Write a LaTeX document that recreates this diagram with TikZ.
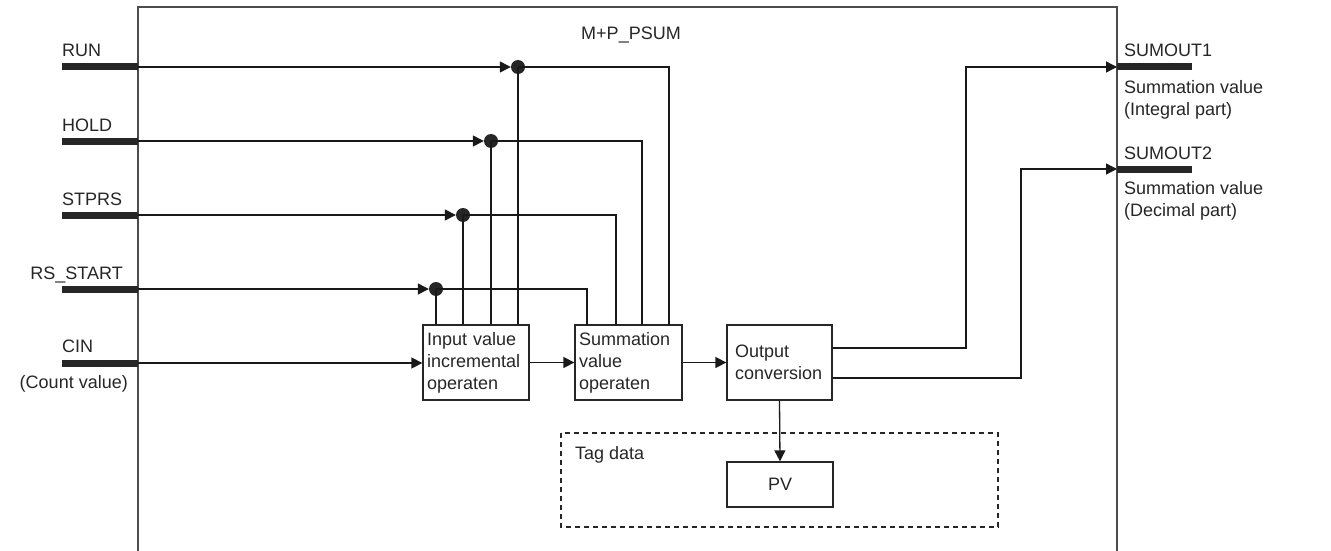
\documentclass[tikz,border=0pt]{standalone}
\usepackage{fontspec}
\setmainfont{Liberation Sans}
\usetikzlibrary{arrows.meta,calc}
\begin{document}
\begin{tikzpicture}[x=1pt,y=-1pt,
  every node/.style={font=\fontsize{18}{22}\selectfont, text=black!85, inner sep=0pt},
  blk/.style={draw=black!85, line width=1.3pt, minimum height=75pt, inner xsep=4pt, inner ysep=2pt, align=left},
  conn/.style={draw=black!90, line width=1.3pt},
  arr/.style={conn, -{Triangle[length=11pt,width=11pt]}},
  bar/.style={line width=7pt, draw=black!85},
  jdot/.style={circle, fill=black!85, minimum size=14pt, inner sep=0pt},
  frame/.style={line width=1.6pt, draw=black!70},
  tagbox/.style={draw=black!85, line width=1.2pt, dash pattern=on 5pt off 4pt}]
\useasboundingbox (0,0) rectangle (1331,551);

% main frame
\draw[frame] (138,551) -- (138,7) -- (1117,7) -- (1117,551);
\node[anchor=base] (title) at (631,40) {M+P\_PSUM};

% input bar ends
\coordinate (runs) at (62,67);   \coordinate (runin) at (138,67);
\coordinate (holds) at (62,141); \coordinate (holdin) at (138,141);
\coordinate (stps) at (62,215);  \coordinate (stpin) at (138,215);
\coordinate (rss) at (62,289);   \coordinate (rsin) at (138,289);
\coordinate (cins) at (62,363);  \coordinate (cinin) at (138,363);
\draw[bar] (runs) -- (runin);
\draw[bar] (holds) -- (holdin);
\draw[bar] (stps) -- (stpin);
\draw[bar] (rss) -- (rsin);
\draw[bar] (cins) -- (cinin);

\node[anchor=base west] (lrun) at (62,57) {RUN};
\node[anchor=base west] (lhold) at (62,131) {HOLD};
\node[anchor=base west] (lstp) at (62,205) {STPRS};
\node[anchor=base east] (lrs) at (123,279) {RS\_START};
\node[anchor=base west] (lcin) at (62,352) {CIN};
\node[anchor=base east] (lcnt) at (128,388) {(Count value)};

% blocks
\node[blk, minimum width=106pt, text width=98pt] (inp) at (476,362.5) {Input value\\incremental\\operaten};
\node[blk, minimum width=107pt, text width=99pt] (sum) at (628.5,362.5) {Summation\\value\\operaten};
\node[blk, minimum width=105pt, inner xsep=8pt, text width=89pt] (out) at (779.5,362.5) {Output\\conversion};
\node[blk, minimum width=106pt, minimum height=45pt, align=center] (pv) at (780,484.5) {PV};

% junctions
\node[jdot] (jrun) at (518,67) {};
\node[jdot] (jhold) at (491,141) {};
\node[jdot] (jstp) at (463,215) {};
\node[jdot] (jrs) at (436,289) {};

\coordinate (srun) at (669,325);
\coordinate (shold) at (642,325);
\coordinate (sstp) at (616,325);
\coordinate (srs) at (587,325);

\draw[arr] (runin) -- (jrun.west);
\draw[arr] (holdin) -- (jhold.west);
\draw[arr] (stpin) -- (jstp.west);
\draw[arr] (rsin) -- (jrs.west);

\draw[conn] (jrun.center) -- (jrun |- inp.north);
\draw[conn] (jhold.center) -- (jhold |- inp.north);
\draw[conn] (jstp.center) -- (jstp |- inp.north);
\draw[conn] (jrs.center) -- (jrs |- inp.north);

\draw[conn] (jrun.center) -| (srun);
\draw[conn] (jhold.center) -| (shold);
\draw[conn] (jstp.center) -| (sstp);
\draw[conn] (jrs.center) -| (srs);

\draw[arr] (cinin) -- (inp.west |- cinin);
\draw[arr] (inp.east) -- (sum.west);
\draw[arr] (sum.east) -- (out.west);

% outputs
\coordinate (o1in) at (1117,67);  \coordinate (o1e) at (1192,67);
\coordinate (o2in) at (1117,169); \coordinate (o2e) at (1192,169);
\coordinate (k1) at (966,67);
\coordinate (k2) at (1021,169);
\draw[bar] (o1in) -- (o1e);
\draw[bar] (o2in) -- (o2e);
\draw[arr] ([yshift=14.5pt]out.east) -| (k1) -- (o1in);
\draw[arr] ([yshift=-15.5pt]out.east) -| (k2) -- (o2in);

\node[anchor=base west] (lo1) at (1124,57) {SUMOUT1};
\node[anchor=base west, align=left] (lo1d) at (1124,115) {Summation value\\(Integral part)};
\node[anchor=base west] (lo2) at (1124,159) {SUMOUT2};
\node[anchor=base west, align=left] (lo2d) at (1124,216) {Summation value\\(Decimal part)};

% tag data
\draw[tagbox] (561,433) rectangle (998,527);
\node[anchor=base west] (ltag) at (575,459) {Tag data};
\draw[arr] (out.south) -- (pv.north);
\end{tikzpicture}
\end{document}
